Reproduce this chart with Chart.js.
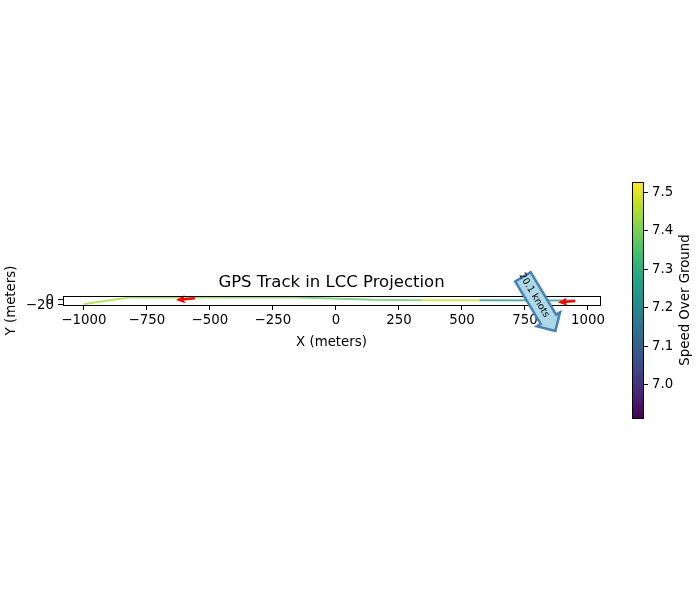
<!DOCTYPE html>
<html><head><meta charset="utf-8">
<script src="https://cdn.jsdelivr.net/npm/chart.js@4.4.0/dist/chart.umd.min.js"></script>
<style>
html,body{margin:0;padding:0;background:#fff}
#wrap{position:relative;width:700px;height:600px;background:#fff}
canvas{position:absolute;left:0;top:0}
</style>
</head><body>
<div id="wrap"><canvas id="main" width="700" height="600"></canvas><canvas id="cb" width="700" height="600"></canvas></div>
<script>
// ---- data ----
const trackX = [-1000, -820, -450, -150, 150, 340, 570, 950];
const trackY = [-20, 6, 6, 6, -3, -5, -5, -6];
const trackSpeed = [7.44, 7.43, 7.42, 7.37, 7.38, 7.47, 7.22, 7.22];
const arrowX = [-560, 949];
const arrowY = [3, -8];
const arrowU = [-75, -68];
const arrowV = [-7, -6];
const annotText = '20.1 knots';
const annotX = 786;
const annotY = 15;
const xTicks = [-1000, -750, -500, -250, 0, 250, 500, 750, 1000];
const yTicks = [-20, 0];
const cbTicks = [7.0, 7.1, 7.2, 7.3, 7.4, 7.5];
const xRange = [-1083, 1048];
const yRange = [-24, 12];
const speedRange = [6.914, 7.527];
const titleText = 'GPS Track in LCC Projection';
const xTitle = 'X (meters)';
const yTitle = 'Y (meters)';
const cbTitle = 'Speed Over Ground';

// ---- style ----
const FONT = 'DejaVu Sans';
const VIRIDIS = ['#440154','#482475','#414487','#355f8d','#2a788e','#21918c','#22a884','#44bf70','#7ad151','#bddf26','#fde725'];
function hex(h){return [parseInt(h.slice(1,3),16),parseInt(h.slice(3,5),16),parseInt(h.slice(5,7),16)];}
function viridis(v, a){
  let t = (v - speedRange[0]) / (speedRange[1] - speedRange[0]);
  t = Math.max(0, Math.min(1, t));
  const p = t * 10, i = Math.min(9, Math.floor(p)), f = p - i;
  const c0 = hex(VIRIDIS[i]), c1 = hex(VIRIDIS[i+1]);
  const c = c0.map((c, k) => Math.round(c + (c1[k]-c)*f));
  return `rgba(${c[0]},${c[1]},${c[2]},${a})`;
}
const fmt = v => String(v).replace('-', '\u2212');
Chart.defaults.font.family = FONT;
Chart.defaults.color = '#000';

const framePlugin = {
  id: 'frame',
  afterDatasetsDraw(chart){
    const {ctx, scales: {x, y}} = chart;
    ctx.save();
    ctx.fillStyle = 'red';
    for (let i = 0; i < arrowX.length; i++){
      const x0 = x.getPixelForValue(arrowX[i]), y0 = y.getPixelForValue(arrowY[i]);
      const x1 = x.getPixelForValue(arrowX[i] + arrowU[i]), y1 = y.getPixelForValue(arrowY[i] + arrowV[i]);
      const ang = Math.atan2(y1 - y0, x1 - x0), len = Math.hypot(x1 - x0, y1 - y0);
      ctx.save(); ctx.translate(x0, y0); ctx.rotate(ang);
      ctx.beginPath();
      ctx.moveTo(0, -1.3); ctx.lineTo(len - 8, -1.3); ctx.lineTo(len - 9, -4);
      ctx.lineTo(len, 0); ctx.lineTo(len - 9, 4); ctx.lineTo(len - 8, 1.3); ctx.lineTo(0, 1.3);
      ctx.closePath(); ctx.fill();
      ctx.restore();
    }
    ctx.restore();
  },
  afterDraw(chart){
    const {ctx, chartArea: a, scales: {x, y}} = chart;
    ctx.save();
    ctx.strokeStyle = '#000'; ctx.lineWidth = 1;
    ctx.strokeRect(Math.round(a.left) + 0.5, Math.round(a.top) + 0.5, Math.round(a.right - a.left), Math.round(a.bottom - a.top));
    ctx.fillStyle = '#000';
    // y tick labels (drawn from the scale's own ticks, vertically centred on the glyphs)
    ctx.font = `13.33px "${FONT}"`;
    ctx.textAlign = 'right'; ctx.textBaseline = 'middle';
    y.ticks.forEach(t => ctx.fillText(fmt(t.value), a.left - 9, y.getPixelForValue(t.value) + 1.5));
    // title
    ctx.font = `16.5px "${FONT}"`;
    ctx.textAlign = 'center'; ctx.textBaseline = 'alphabetic';
    ctx.fillText(titleText, (a.left + a.right) / 2, a.top - 9);
    // annotation (rarrow box)
    const cx = x.getPixelForValue(annotX), cy = y.getPixelForValue(annotY);
    ctx.translate(cx, cy);
    ctx.rotate(59 * Math.PI / 180);
    ctx.font = `9.5px "${FONT}"`;
    const w = ctx.measureText(annotText).width;
    const pad = 3, th = 12;
    const x0 = -w/2 - pad, x1 = w/2 + pad, y0 = -th/2 - pad, y1 = th/2 + pad;
    const dx = (y1 - y0) / 2, dxx = dx / 2, xs = x0 + pad / 1.4;
    ctx.beginPath();
    ctx.moveTo(xs + dxx, y0); ctx.lineTo(x1, y0); ctx.lineTo(x1, y0 - dxx);
    ctx.lineTo(x1 + dx + dxx, y0 + dx); ctx.lineTo(x1, y1 + dxx); ctx.lineTo(x1, y1);
    ctx.lineTo(xs + dxx, y1); ctx.closePath();
    ctx.fillStyle = '#add8e6'; ctx.fill();
    ctx.strokeStyle = '#4682b4'; ctx.lineWidth = 2.5; ctx.lineJoin = 'miter'; ctx.stroke();
    ctx.fillStyle = '#000'; ctx.textAlign = 'center'; ctx.textBaseline = 'middle';
    ctx.fillText(annotText, 0, 0);
    ctx.restore();
  }
};

new Chart(document.getElementById('main'), {
  type: 'scatter',
  data: {
    datasets: [{
      data: trackX.map((v, i) => ({x: v, y: trackY[i]})),
      showLine: true,
      borderWidth: 2.2,
      pointRadius: 0,
      borderColor: viridis(trackSpeed[0], 0.75),
      segment: { borderColor: c => viridis(trackSpeed[c.p0DataIndex], 0.75) }
    }]
  },
  options: {
    responsive: false, animation: false, devicePixelRatio: 1,
    layout: { padding: { left: 0, right: 100, top: 296, bottom: 249 } },
    plugins: { legend: { display: false }, tooltip: { enabled: false } },
    scales: {
      x: {
        type: 'linear', min: xRange[0], max: xRange[1],
        afterBuildTicks: s => { s.ticks = xTicks.map(v => ({value: v})); },
        afterFit: s => { s.height = 46; },
        grid: { drawOnChartArea: false, drawTicks: true, tickLength: 5, color: '#000' },
        border: { display: true, color: '#000' },
        ticks: { callback: fmt, font: { size: 13.33 }, padding: 3, maxRotation: 0, autoSkip: false, color: '#000' },
        title: { display: true, text: xTitle, font: { size: 13.33 }, padding: { top: 0, bottom: 0 }, color: '#000' }
      },
      y: {
        type: 'linear', min: yRange[0], max: yRange[1],
        afterBuildTicks: s => { s.ticks = yTicks.map(v => ({value: v})); },
        afterFit: s => { s.width = 63; },
        grid: { drawOnChartArea: false, drawTicks: true, tickLength: 5, color: '#000' },
        border: { display: true, color: '#000' },
        ticks: { callback: fmt, font: { size: 13.33 }, padding: 4, autoSkip: false, color: 'rgba(0,0,0,0)' },
        title: { display: true, text: yTitle, font: { size: 13.33 }, padding: { top: 4, bottom: 0 }, color: '#000' }
      }
    }
  },
  plugins: [framePlugin]
});

const cbPlugin = {
  id: 'cbfill',
  beforeDatasetsDraw(chart){
    const {ctx, chartArea: a, scales: {y}} = chart;
    const yb = y.getPixelForValue(speedRange[0]), yt = y.getPixelForValue(speedRange[1]);
    const g = ctx.createLinearGradient(0, yb, 0, yt);
    VIRIDIS.forEach((c, i) => g.addColorStop(i / 10, c));
    ctx.save();
    ctx.fillStyle = g;
    ctx.fillRect(a.left, yt, a.right - a.left, yb - yt);
    ctx.strokeStyle = '#000'; ctx.lineWidth = 1;
    ctx.strokeRect(Math.round(a.left) + 0.5, Math.round(yt) + 0.5, Math.round(a.right - a.left), Math.round(yb - yt));
    ctx.fillStyle = '#000';
    ctx.font = `13.33px "${FONT}"`;
    ctx.textAlign = 'center'; ctx.textBaseline = 'middle';
    ctx.translate(686, (yt + yb) / 2);
    ctx.rotate(-Math.PI / 2);
    ctx.fillText(cbTitle, 0, 0);
    ctx.restore();
  }
};

new Chart(document.getElementById('cb'), {
  type: 'scatter',
  data: { datasets: [{ data: [], pointRadius: 0 }] },
  options: {
    responsive: false, animation: false, devicePixelRatio: 1,
    layout: { padding: { left: 632, right: 0, top: 182, bottom: 182 } },
    plugins: { legend: { display: false }, tooltip: { enabled: false } },
    scales: {
      x: { display: false, min: 0, max: 1 },
      y: {
        position: 'right', type: 'linear', min: speedRange[0], max: speedRange[1],
        afterBuildTicks: s => { s.ticks = cbTicks.map(v => ({value: v})); },
        afterFit: s => { s.width = 57; },
        grid: { drawOnChartArea: false, drawTicks: true, tickLength: 5, color: '#000' },
        border: { display: false },
        ticks: { callback: v => v.toFixed(1), font: { size: 13.33 }, padding: 4, autoSkip: false, color: '#000' }
      }
    }
  },
  plugins: [cbPlugin]
});
</script>
</body></html>
